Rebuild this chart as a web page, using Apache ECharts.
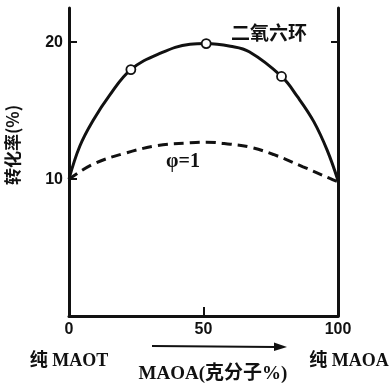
<!DOCTYPE html>
<html>
<head>
<meta charset="utf-8">
<script src="https://cdn.jsdelivr.net/npm/echarts@6/dist/echarts.min.js"></script>
<style>html,body{margin:0;padding:0;background:#fff}#c{width:391px;height:388px}</style>
</head>
<body>
<div id="c"></div>
<script>
// Data
const solidX = [0, 4, 9, 15, 23, 34, 45, 51, 60, 67, 79, 85, 91, 96, 100];
const solidY = [10, 12.4, 14.3, 16.1, 18.0, 19.2, 19.85, 19.9, 19.7, 19.3, 17.5, 16.0, 14.2, 12.1, 9.9];
const dashX = [0, 9, 21, 33, 45, 51, 60, 67, 76, 87, 97, 100];
const dashY = [10, 11.1, 11.9, 12.45, 12.65, 12.7, 12.55, 12.35, 11.8, 10.9, 10.05, 9.8];
const markerX = [23, 51, 79];
const markerY = [18.0, 19.9, 17.5];
const xTickLabels = [0, 50, 100];
const yTickLabels = [10, 20];

const zip = (a, b) => a.map((v, i) => [v, b[i]]);
const ink = '#111';
const serif = '"Liberation Serif", "Noto Sans CJK SC", serif';
const cjk = '"Noto Sans CJK SC", "Liberation Serif", sans-serif';

const chart = echarts.init(document.getElementById('c'), null, {renderer: 'canvas'});
chart.setOption({
  animation: false,
  backgroundColor: '#fff',
  grid: {left: 69, right: 53, top: 8, bottom: 72, containLabel: false},
  xAxis: {
    type: 'value', min: 0, max: 100, interval: 50,
    axisLine: {lineStyle: {color: ink, width: 3}},
    axisTick: {inside: true, length: 9, lineStyle: {color: ink, width: 2}, customValues: [50]},
    axisLabel: {customValues: xTickLabels, color: ink, fontSize: 16, fontWeight: 'bold', fontFamily: '"Liberation Sans", sans-serif', margin: 6},
    splitLine: {show: false}
  },
  yAxis: [{
    type: 'value', min: 0, max: 22.5, interval: 10,
    axisLine: {show: true, onZero: false, lineStyle: {color: ink, width: 3}},
    axisTick: {show: true, inside: true, length: 8, lineStyle: {color: ink, width: 2}, customValues: yTickLabels},
    axisLabel: {customValues: yTickLabels, color: ink, fontSize: 16, fontWeight: 'bold', fontFamily: '"Liberation Sans", sans-serif', margin: 6},
    splitLine: {show: false}
  }, {
    type: 'value', min: 0, max: 22.5, interval: 10, position: 'right',
    axisLine: {show: true, onZero: false, lineStyle: {color: ink, width: 3}},
    axisTick: {show: true, inside: true, length: 7, lineStyle: {color: ink, width: 2}, customValues: [20]},
    axisLabel: {show: false},
    splitLine: {show: false}
  }],
  series: [{
    type: 'line', data: zip(solidX, solidY), smooth: 0.4, showSymbol: false,
    lineStyle: {color: ink, width: 3}, z: 3
  }, {
    type: 'line', data: zip(dashX, dashY), smooth: 0.4, showSymbol: false,
    lineStyle: {color: ink, width: 3, type: [10, 6]}, z: 3
  }, {
    type: 'scatter', data: zip(markerX, markerY), symbol: 'circle', symbolSize: 9,
    itemStyle: {color: '#fff', borderColor: ink, borderWidth: 1.8, opacity: 1}, z: 5
  }],
  graphic: [
    {type: 'text', x: 13, y: 145, rotation: Math.PI / 2,
     style: {text: '转化率(%)', font: 'bold 17px ' + cjk, fill: ink, align: 'center', verticalAlign: 'middle'}},
    {type: 'text', x: 269, y: 33,
     style: {text: '二氧六环', font: 'bold 19px ' + cjk, fill: ink, align: 'center', verticalAlign: 'middle'}},
    {type: 'text', x: 183, y: 162,
     style: {text: 'φ=1', font: 'bold 20px ' + serif, fill: ink, align: 'center', verticalAlign: 'middle'}},
    {type: 'text', x: 69, y: 361,
     style: {text: '纯 MAOT', font: 'bold 18px ' + serif, fill: ink, align: 'center', verticalAlign: 'middle'}},
    {type: 'text', x: 213, y: 374,
     style: {text: 'MAOA(克分子%)', font: 'bold 19px ' + serif, fill: ink, align: 'center', verticalAlign: 'middle'}},
    {type: 'text', x: 349, y: 361,
     style: {text: '纯 MAOA', font: 'bold 18px ' + serif, fill: ink, align: 'center', verticalAlign: 'middle'}},
    {type: 'line', shape: {x1: 152, y1: 346, x2: 276, y2: 347}, style: {stroke: ink, lineWidth: 2}},
    {type: 'polygon', shape: {points: [[274, 342.5], [287, 347], [274, 351]]}, style: {fill: ink}}
  ]
});
</script>
</body>
</html>
